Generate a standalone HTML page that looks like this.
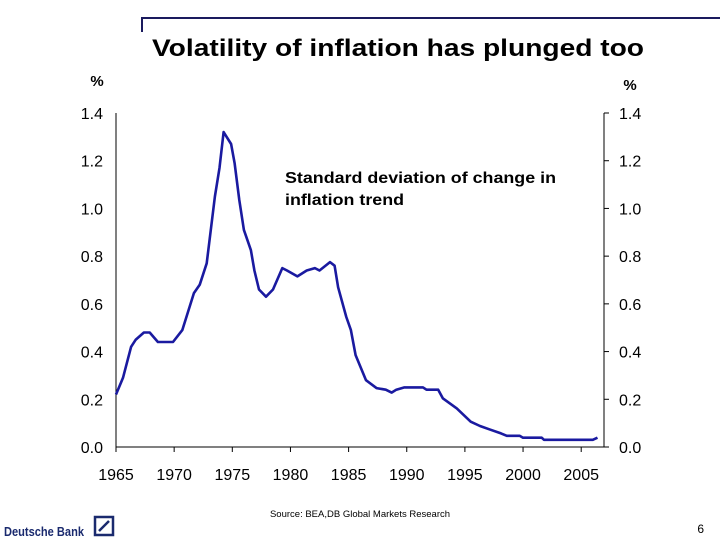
<!DOCTYPE html>
<html><head><meta charset="utf-8"><style>
html,body{margin:0;padding:0;background:#fff;}
svg{display:block;font-family:"Liberation Sans",Arial,sans-serif;}
</style></head><body>
<svg id="chart" width="720" height="540" viewBox="0 0 720 540">
  <path d="M142 32 V18 H720" fill="none" stroke="#1a1a5e" stroke-width="2"/>
  <text x="398" y="56" text-anchor="middle" font-size="24" font-weight="bold" fill="#000" textLength="492" lengthAdjust="spacingAndGlyphs">Volatility of inflation has plunged too</text>
  <text x="97" y="86" text-anchor="middle" font-size="15" font-weight="bold">%</text>
  <text x="630" y="90" text-anchor="middle" font-size="15" font-weight="bold">%</text>
  <text x="285" y="183" font-size="16" font-weight="bold" textLength="271" lengthAdjust="spacingAndGlyphs">Standard deviation of change in</text>
  <text x="285" y="205" font-size="16" font-weight="bold" textLength="119" lengthAdjust="spacingAndGlyphs">inflation trend</text>
  <g id="axes"></g>
  <g id="series"></g>
  <text x="360" y="517" text-anchor="middle" font-size="9.5">Source: BEA,DB Global Markets Research</text>
  <text x="4" y="536" font-size="13" font-weight="bold" fill="#1a2a6e" textLength="80" lengthAdjust="spacingAndGlyphs">Deutsche Bank</text>
  <g>
    <rect x="95" y="517" width="18" height="18" fill="none" stroke="#1a2a6e" stroke-width="2.5"/>
    <line x1="99" y1="531" x2="109" y2="521" stroke="#1a2a6e" stroke-width="2.5"/>
  </g>
  <text x="704" y="533" text-anchor="end" font-size="12">6</text>
</svg>
<script>
const years = [1965.0,1965.6,1966.3,1966.7,1967.4,1967.9,1968.6,1969.9,1970.7,1971.7,1972.2,1972.8,1973.5,1973.9,1974.25,1974.9,1975.2,1975.6,1976.0,1976.6,1976.9,1977.3,1977.9,1978.5,1979.3,1979.7,1980.6,1981.4,1982.1,1982.5,1983.4,1983.8,1984.1,1984.8,1985.2,1985.6,1986.5,1987.4,1988.2,1988.7,1989.1,1989.8,1991.4,1991.7,1992.7,1993.1,1994.3,1995.5,1996.3,1997.1,1998.1,1998.6,1999.7,2000.0,2001.6,2001.8,2006.0,2006.4];
const values = [0.22,0.29,0.42,0.45,0.48,0.48,0.44,0.44,0.49,0.645,0.68,0.77,1.05,1.17,1.32,1.27,1.19,1.035,0.91,0.825,0.74,0.66,0.63,0.66,0.75,0.74,0.715,0.74,0.75,0.74,0.775,0.76,0.67,0.545,0.49,0.385,0.28,0.247,0.24,0.228,0.24,0.25,0.25,0.24,0.24,0.204,0.162,0.106,0.088,0.074,0.057,0.047,0.047,0.039,0.039,0.03,0.03,0.039];
const yTicks = [0,0.2,0.4,0.6,0.8,1.0,1.2,1.4];
const yTickLabels = ["0.0","0.2","0.4","0.6","0.8","1.0","1.2","1.4"];
const xTicks = [1965,1970,1975,1980,1985,1990,1995,2000,2005];

const NS="http://www.w3.org/2000/svg";
const x0=116, x1=604, yTop=113, yBot=447;
const X = y => x0 + (y-1965)*11.63;
const Y = v => yBot - v/1.4*(yBot-yTop);
function mk(tag, attrs, parent){const e=document.createElementNS(NS,tag);for(const k in attrs)e.setAttribute(k,attrs[k]);parent.appendChild(e);return e;}
const axes=document.getElementById('axes');
let l=mk('line',{x1:x0,y1:yTop,x2:x0,y2:yBot,stroke:'#000','stroke-width':1},axes);


l=mk('line',{x1:x1,y1:yTop,x2:x1,y2:yBot,stroke:'#000','stroke-width':1},axes);


l=mk('line',{x1:x0,y1:yBot,x2:x1,y2:yBot,stroke:'#000','stroke-width':1},axes);


yTicks.forEach((v,i)=>{
  const y=Y(v);
  mk('line',{x1:x1,y1:y,x2:x1+5,y2:y,stroke:'#000'},axes);
  let t=mk('text',{x:x0-13,y:y+6,'text-anchor':'end','font-size':16},axes);
  t.textContent=yTickLabels[i];
  
  
  t=mk('text',{x:x1+15,y:y+6,'font-size':16},axes);
  t.textContent=yTickLabels[i];
  
  
});
xTicks.forEach(yr=>{
  const x=X(yr);
  mk('line',{x1:x,y1:yBot,x2:x,y2:yBot+5,stroke:'#000'},axes);
  const t=mk('text',{x:x,y:yBot+33,'text-anchor':'middle','font-size':16},axes);
  t.textContent=yr;
  
  
});
const d=years.map((yr,i)=>(i?'L':'M')+X(yr).toFixed(1)+' '+Y(values[i]).toFixed(1)).join(' ');
const p=mk('path',{d:d,fill:'none',stroke:'#1a1aa0','stroke-width':2.6,'stroke-linejoin':'round'},document.getElementById('series'));


</script>
</body></html>
